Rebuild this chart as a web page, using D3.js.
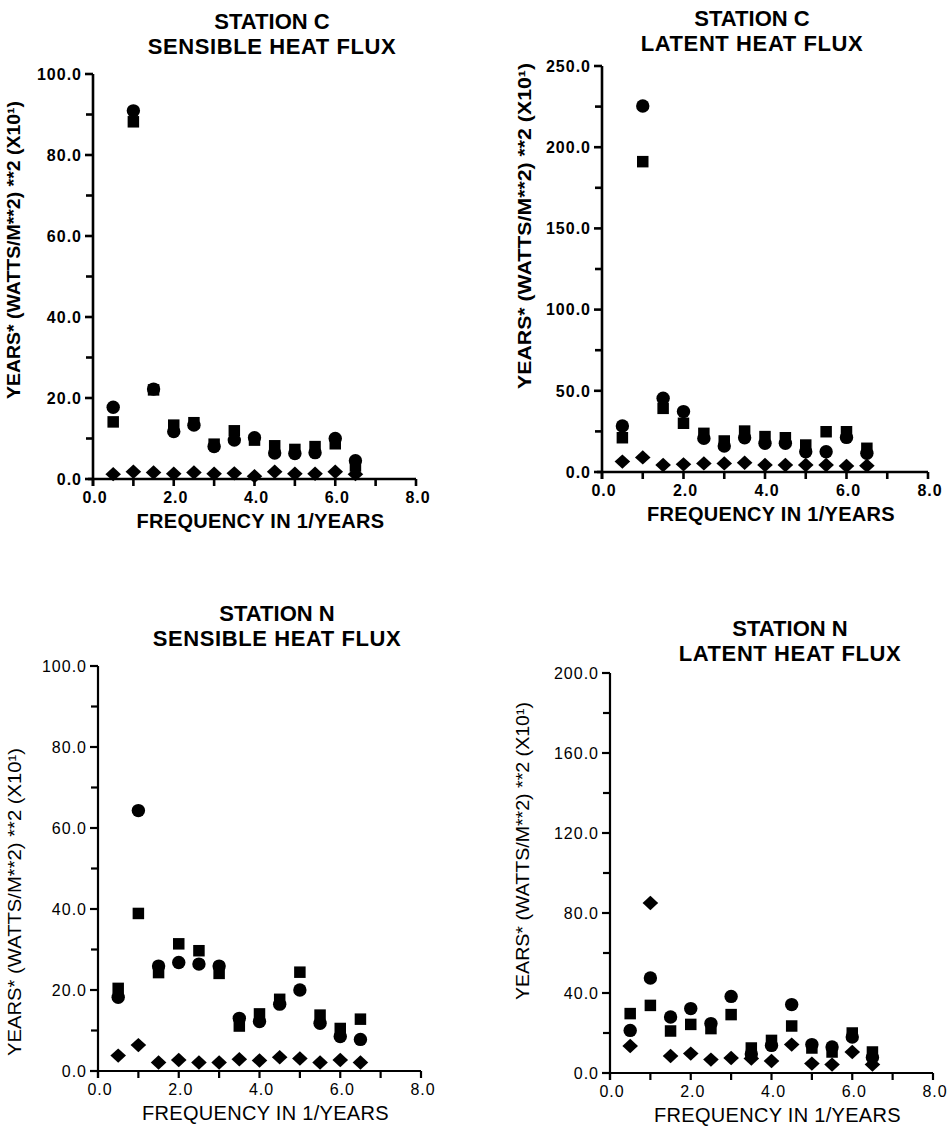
<!DOCTYPE html>
<html>
<head>
<meta charset="utf-8">
<script src="https://cdn.jsdelivr.net/npm/d3@7"></script>
<style>
html,body{margin:0;padding:0;background:#fff;}
svg{display:block;}
text{font-family:"Liberation Sans",Arial,Helvetica,sans-serif;fill:#000;}
</style>
</head>
<body>
<svg id="chart" width="952" height="1129"></svg>
<script>
// ---------------- DATA ----------------
const freq = [0.5, 1.0, 1.5, 2.0, 2.5, 3.0, 3.5, 4.0, 4.5, 5.0, 5.5, 6.0, 6.5];

// Station C, sensible heat flux
const cSensCircle  = [17.7, 90.9, 22.2, 11.7, 13.3, 8.0, 9.6, 10.2, 6.4, 6.3, 6.5, 10.0, 4.5];
const cSensSquare  = [14.1, 88.2, 22.0, 13.3, 13.9, 8.6, 11.9, 9.6, 8.2, 7.3, 8.0, 8.7, 3.2];
const cSensDiamond = [1.2, 1.8, 1.6, 1.3, 1.6, 1.3, 1.4, 0.7, 1.8, 1.3, 1.3, 1.8, 1.2];

// Station C, latent heat flux
const cLatCircle  = [28.3, 225.4, 45.4, 37.2, 20.7, 16.0, 21.1, 17.7, 17.7, 12.5, 12.5, 21.3, 11.5];
const cLatSquare  = [21.1, 191.1, 39.2, 30.0, 23.8, 19.1, 25.2, 21.8, 21.1, 16.6, 24.8, 24.8, 14.6];
const cLatDiamond = [6.4, 9.0, 4.3, 4.7, 5.3, 5.3, 5.7, 4.3, 4.3, 4.3, 4.3, 3.7, 3.9];

// Station N, sensible heat flux
const nSensCircle  = [18.2, 64.3, 25.9, 26.8, 26.4, 25.9, 13.0, 12.2, 16.5, 20.0, 11.8, 8.5, 7.8];
const nSensSquare  = [20.4, 38.9, 24.3, 31.4, 29.7, 24.1, 11.1, 14.1, 17.7, 24.4, 13.8, 10.5, 12.8];
const nSensDiamond = [3.8, 6.4, 2.1, 2.7, 2.1, 2.1, 2.9, 2.6, 3.4, 3.1, 2.1, 2.7, 2.1];

// Station N, latent heat flux
const nLatCircle  = [21.3, 47.5, 28.0, 32.2, 24.7, 38.3, 9.5, 13.8, 34.2, 14.2, 13.0, 18.0, 7.7];
const nLatSquare  = [29.7, 33.8, 21.0, 24.3, 22.2, 29.2, 12.5, 16.3, 23.5, 12.5, 10.5, 20.0, 10.5];
const nLatDiamond = [13.5, 85.0, 8.5, 9.7, 6.7, 7.5, 7.2, 6.0, 14.2, 4.7, 4.2, 10.5, 4.2];

// Axis ticks / labels
const xTickValues  = [0, 1, 2, 3, 4, 5, 6, 7, 8];
const xLabelValues = [0, 2, 4, 6, 8];
const yTicksSens   = [0, 20, 40, 60, 80, 100];
const yTicksCLat   = [0, 50, 100, 150, 200, 250];
const yTicksNLat   = [0, 40, 80, 120, 160, 200];

const titlesTop    = ["STATION C", "STATION C", "STATION N", "STATION N"];
const titlesBottom = ["SENSIBLE HEAT FLUX", "LATENT HEAT FLUX", "SENSIBLE HEAT FLUX", "LATENT HEAT FLUX"];
const xTitle = "FREQUENCY IN 1/YEARS";
const yTitle = "YEARS* (WATTS/M**2) **2 (X10\u00B9)";

// ---------------- LAYOUT ----------------
const panels = [
  {circle:cSensCircle, square:cSensSquare, diamond:cSensDiamond, yTicks:yTicksSens, yMax:100,
   L:93, R:416, T:74, B:479, tcx:272, t1y:29, t2y:54, ytx:14, yty:250, ytl:298, bold:true, sw:2.6},
  {circle:cLatCircle, square:cLatSquare, diamond:cLatDiamond, yTicks:yTicksCLat, yMax:250,
   L:602, R:928, T:66, B:472, tcx:752, t1y:26, t2y:51, ytx:525, yty:226, ytl:326, bold:true, sw:2.6},
  {circle:nSensCircle, square:nSensSquare, diamond:nSensDiamond, yTicks:yTicksSens, yMax:100,
   L:98, R:421, T:666, B:1071, tcx:277, t1y:621, t2y:646, ytx:15, yty:902, ytl:308, bold:false, sw:2.2},
  {circle:nLatCircle, square:nLatSquare, diamond:nLatDiamond, yTicks:yTicksNLat, yMax:200,
   L:610, R:933, T:673, B:1073, tcx:790, t1y:636, t2y:661, ytx:523, yty:851, ytl:298, bold:false, sw:2.2}
];

const svg = d3.select("#chart");
const fmt = d3.format(".1f");

const diamondType = {
  draw(ctx, size) {
    const rx = Math.sqrt(size) * 0.78, ry = Math.sqrt(size) * 0.72;
    ctx.moveTo(0, -ry); ctx.lineTo(rx, 0); ctx.lineTo(0, ry); ctx.lineTo(-rx, 0); ctx.closePath();
  }
};
const circleSym  = d3.symbol().type(d3.symbolCircle).size(Math.PI * 6.7 * 6.7);
const squareSym  = d3.symbol().type(d3.symbolSquare).size(11.5 * 11.5);
const diamondSym = d3.symbol().type(diamondType).size(100);

panels.forEach((p, i) => {
  const g = svg.append("g");
  const x = d3.scaleLinear().domain([0, 8]).range([p.L, p.R]);
  const y = d3.scaleLinear().domain([0, p.yMax]).range([p.B, p.T]);
  const weight = p.bold ? "bold" : "normal";

  // titles
  g.append("text").attr("x", p.tcx).attr("y", p.t1y).attr("text-anchor", "middle")
    .attr("font-size", 22).attr("font-weight", "bold").text(titlesTop[i]);
  g.append("text").attr("x", p.tcx).attr("y", p.t2y).attr("text-anchor", "middle")
    .attr("font-size", 22).attr("font-weight", "bold").attr("letter-spacing", 0.6).text(titlesBottom[i]);

  // axes lines
  const ax = g.append("g").attr("stroke", "#000").attr("stroke-width", p.sw).attr("fill", "none");
  ax.append("line").attr("x1", x(0)).attr("x2", x(0)).attr("y1", y(p.yMax)).attr("y2", y(0) + 7);
  ax.append("line").attr("x1", x(0) - 5).attr("x2", x(8)).attr("y1", y(0)).attr("y2", y(0));

  // y ticks: major + minor halves
  const step = p.yTicks[1] - p.yTicks[0];
  const minor = d3.range(step / 2, p.yMax, step);
  p.yTicks.forEach(v => {
    ax.append("line").attr("x1", x(0) - 8).attr("x2", x(0)).attr("y1", y(v)).attr("y2", y(v));
  });
  minor.forEach(v => {
    ax.append("line").attr("x1", x(0) - 7).attr("x2", x(0)).attr("y1", y(v)).attr("y2", y(v));
  });
  xTickValues.forEach(v => {
    ax.append("line").attr("x1", x(v)).attr("x2", x(v)).attr("y1", y(0)).attr("y2", y(0) + 7);
  });

  // y tick labels
  p.yTicks.forEach(v => {
    g.append("text").attr("x", x(0) - 11).attr("y", y(v)).attr("dy", "0.36em")
      .attr("text-anchor", "end").attr("font-size", 16).attr("font-weight", weight)
      .attr("letter-spacing", 1).text(fmt(v));
  });
  // x tick labels
  xLabelValues.forEach(v => {
    g.append("text").attr("x", x(v) + 2).attr("y", y(0) + 24)
      .attr("text-anchor", "middle").attr("font-size", 16).attr("font-weight", weight)
      .attr("letter-spacing", 1).text(fmt(v));
  });

  // axis titles
  g.append("text").attr("x", (x(0) + x(8)) / 2 + 6).attr("y", y(0) + 49)
    .attr("text-anchor", "middle").attr("font-size", 20).attr("font-weight", weight)
    .attr("letter-spacing", 0.3).text(xTitle);
  g.append("text")
    .attr("transform", `translate(${p.ytx},${p.yty}) rotate(-90)`)
    .attr("text-anchor", "middle").attr("dy", "0.36em")
    .attr("font-size", 18).attr("font-weight", weight)
    .attr("textLength", p.ytl).attr("lengthAdjust", "spacingAndGlyphs")
    .text(yTitle);

  // markers
  const pts = (arr) => freq.map((f, k) => ({f, v: arr[k]}));
  g.append("g").selectAll("path").data(pts(p.square)).join("path")
    .attr("transform", d => `translate(${x(d.f)},${y(d.v)})`).attr("d", squareSym()).attr("fill", "#000");
  g.append("g").selectAll("path").data(pts(p.circle)).join("path")
    .attr("transform", d => `translate(${x(d.f)},${y(d.v)})`).attr("d", circleSym()).attr("fill", "#000");
  g.append("g").selectAll("path").data(pts(p.diamond)).join("path")
    .attr("transform", d => `translate(${x(d.f)},${y(d.v)})`).attr("d", diamondSym()).attr("fill", "#000");
});
</script>
</body>
</html>
